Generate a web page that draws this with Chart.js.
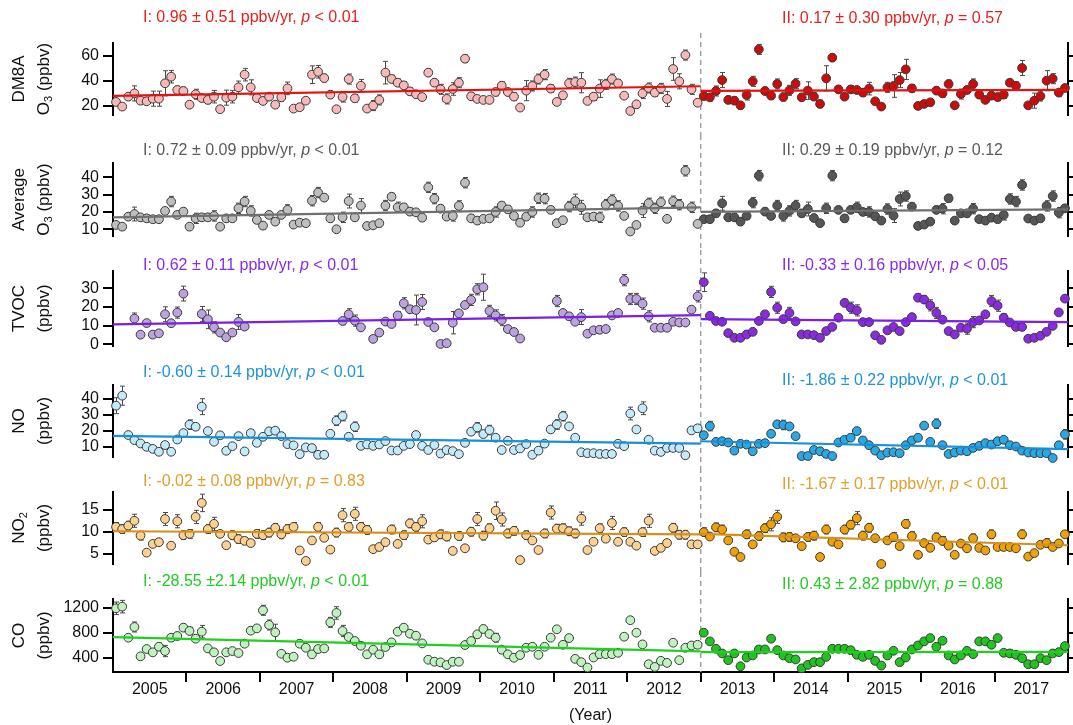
<!DOCTYPE html>
<html>
<head>
<meta charset="utf-8">
<title>Monthly O3, TVOC, NO, NO2 and CO, 2005-2017</title>
<script src="https://cdn.jsdelivr.net/npm/chart.js@4.4.1/dist/chart.umd.min.js"></script>
<style>
  html, body { margin: 0; padding: 0; background: #fff; }
  #wrap { position: relative; width: 1073px; height: 725px; overflow: hidden; }
  #wrap canvas { position: absolute; left: 0; }
</style>
</head>
<body>
<div id="wrap"></div>
<script>
// ---------------------------------------------------------------------------
// Monthly means, Jan 2005 .. Dec 2017 (one row per year, 12 months each)
// ---------------------------------------------------------------------------
const yearLabels = [2005, 2006, 2007, 2008, 2009, 2010, 2011, 2012, 2013, 2014, 2015, 2016, 2017];
const periodSplitYear = 2013;   // period I: 2005-2012, period II: 2013-2017

const dm8a = [
  23.2, 19.5, 27.4, 30, 24.2, 23.7, 25.8, 25.8, 38, 43.3, 32.7, 31.9,
  21, 29.3, 26.3, 24.8, 27.4, 17.4, 26.6, 27.4, 34.8, 44.9, 34.8, 26.3,
  24, 27.4, 21, 26.9, 34, 17.9, 19, 24.2, 44.9, 47.2, 42.2, 29,
  17.4, 27.1, 41.4, 26.1, 36.1, 17.9, 20.3, 24.8, 46.5, 41.5, 38.5, 36.4,
  31.6, 29.3, 27.1, 46.5, 38.5, 33.2, 25.6, 33.5, 38.5, 57.6, 27.7, 25.6,
  24.8, 24.8, 31.1, 36.1, 31.1, 27.4, 18.7, 32.2, 35.9, 41.4, 44.9, 33.8,
  23.2, 28.5, 38, 39, 38.5, 24, 27.4, 33.8, 37.2, 41.4, 38, 28.2,
  16, 21.3, 30, 34.3, 30.6, 34, 25.6, 49.4, 39.6, 60.5, 33.2, 22.6,
  27.9, 26.9, 31.9, 40.6, 24.8, 24.2, 20.5, 28.7, 39.6, 65, 31.9, 28.2,
  37.5, 27.1, 32.4, 37.7, 26.9, 32.2, 27.4, 21.6, 42, 58.4, 33.2, 27.4,
  33.2, 32.7, 30.6, 33.8, 23.7, 19.5, 34.8, 35.9, 40.6, 49.1, 34, 20,
  21.6, 22.9, 32.2, 30, 37.5, 20.5, 29.5, 32.7, 37.5, 29, 24.8, 28.2,
  27.1, 29, 38.5, 36.1, 50.2, 20.5, 24.2, 27.9, 40.1, 41.7, 30.6, 34.3
];
const dm8aErr = [
  0, 0, 3, 6, 0, 2, 6, 6, 10, 5, 3, 3,
  0, 4, 2, 3, 5, 0, 6, 5, 5, 5, 6, 0,
  2, 3, 0, 3, 5, 0, 0, 0, 7, 5, 3, 3,
  0, 4, 4, 3, 5, 0, 4, 4, 9, 3, 3, 3,
  3, 2, 2, 3, 3, 4, 4, 5, 4, 3, 3, 2,
  2, 0, 3, 3, 3, 3, 0, 8, 4, 4, 4, 3,
  0, 3, 4, 4, 8, 2, 3, 7, 4, 4, 3, 0,
  0, 3, 4, 4, 3, 4, 6, 9, 6, 4, 4, 0,
  3, 3, 4, 6, 3, 3, 3, 4, 4, 4, 3, 3,
  4, 3, 4, 4, 0, 7, 3, 3, 10, 3, 3, 2,
  3, 2, 3, 5, 0, 0, 4, 9, 6, 8, 3, 0,
  0, 0, 3, 3, 3, 0, 4, 3, 4, 3, 2, 3,
  3, 3, 2, 3, 6, 0, 6, 4, 8, 4, 3, 0
];

const avgO3 = [
  12.5, 11.5, 17.3, 18.8, 16.9, 16.3, 15.8, 15.8, 20.6, 26, 18.3, 20.2,
  11.5, 16.3, 16.9, 16.9, 17.7, 11.5, 16.3, 16.3, 22.1, 26, 20.6, 15.4,
  12.1, 18.3, 14.4, 18.3, 21.2, 12.7, 13.8, 13.5, 26.5, 31.2, 28.3, 16.3,
  10, 16.9, 26.3, 16.9, 23.7, 11.9, 12.3, 13.5, 23.7, 28.8, 22.7, 22.7,
  20.2, 19.8, 16.7, 34.2, 27.7, 21.9, 17.3, 17.7, 23.5, 36.9, 16.3, 15,
  16, 16.3, 20, 23.7, 21.5, 17.7, 13.8, 17.3, 20, 27.9, 27.7, 21.2,
  13.5, 15.2, 23.1, 26.3, 22.7, 16.9, 17.3, 16.9, 24.2, 26.9, 23.5, 17.7,
  8.7, 12.5, 20.8, 25, 22.1, 25.6, 16, 26.2, 24.2, 43.8, 22.7, 13.1,
  15.8, 15.8, 19.2, 25, 16.9, 16.9, 14.4, 17.7, 25.4, 41, 20.2, 17.7,
  23.7, 17.7, 20.6, 23.7, 19.2, 21.7, 16.5, 13.5, 22.1, 41, 21.2, 16.3,
  21.2, 22.7, 20, 20, 17.5, 15, 21.7, 17.9, 27.5, 29.2, 23.1, 11.9,
  12.7, 14.4, 21.2, 21.9, 27.9, 15, 19.2, 19.2, 21.9, 15.8, 15, 16.7,
  15.8, 18.3, 27.5, 26, 35.6, 16.2, 15, 16.3, 23.5, 29.2, 19.6, 22.1
];
const avgO3Err = [
  0, 0, 2, 4, 0, 2, 2, 2, 2, 3, 2, 2,
  0, 3, 2, 2, 3, 0, 2, 2, 3, 3, 3, 0,
  2, 2, 0, 2, 3, 0, 0, 0, 3, 3, 2, 2,
  0, 3, 4, 2, 4, 0, 0, 0, 3, 2, 3, 2,
  2, 0, 2, 3, 3, 2, 0, 3, 3, 3, 2, 2,
  0, 0, 3, 2, 2, 2, 0, 2, 3, 3, 3, 2,
  0, 0, 3, 4, 4, 0, 2, 3, 3, 3, 3, 0,
  0, 0, 4, 3, 3, 3, 0, 3, 3, 3, 3, 0,
  2, 2, 2, 4, 2, 2, 2, 2, 3, 3, 2, 2,
  3, 3, 3, 3, 2, 4, 2, 0, 3, 3, 2, 2,
  2, 3, 2, 3, 0, 0, 3, 4, 4, 3, 2, 0,
  0, 0, 2, 3, 2, 0, 2, 2, 3, 2, 2, 2,
  2, 3, 3, 3, 3, 0, 2, 2, 3, 3, 3, 0
];

const tvoc = [
  null, null, null, 13.8, 5.2, 11.4, 5.2, 5.9, 16.1, 11.3, 17, 27.2,
  null, null, 16.3, 13.4, 9.1, 6.3, 3.8, 6.3, 12, 9.5, null, null,
  null, null, null, null, null, null, null, null, null, null, null, null,
  null, 12.5, 16.1, 12.7, 9.1, null, 2.9, 6.3, 12.2, 10.9, 15.5, 22,
  18.8, 18.4, 22.7, 12, 9.1, 0.2, 0.6, 11.6, 16.6, 21.1, 23.8, 29.5,
  30.6, 17.9, 15.5, 13, 8.2, 6.6, 3.1, null, null, null, null, null,
  23.2, 16.8, 15, 12.1, 14.6, 5.7, 7.5, 7.8, 8.2, 15.5, 16.8, 34.4,
  24.3, 24.3, 21.8, 15, 8.9, 8.9, 8.9, 12.1, 11.7, 11.7, 18.6, 25.7,
  33.3, 15.3, 12.5, 12.1, 6, 3.5, 3.5, 5.3, 6.7, 12.5, 16.1, 28.1,
  19.6, 13.5, 16.8, 12.3, 5.3, 5.3, 4.9, 3.5, 7.1, 9.3, 14.3, 22.2,
  19.6, 18.2, 11.9, 11.9, 4.8, 2.4, 7.5, 9.3, 7.1, 11.9, 14.6, 25,
  24, 20.9, 16.8, 13.2, 7.1, 5.3, 8.9, 8.4, 11.9, 12.8, 16.1, 23.2,
  20.7, 14.3, 11.7, 9.3, 9.3, 3, 3.5, 4.6, 6.7, 9.9, 17.1, 24.5
];
const tvocErr = [
  0, 0, 0, 3, 0, 0, 0, 0, 4, 0, 3, 4,
  0, 0, 4, 5, 3, 0, 0, 0, 4, 0, 0, 0,
  0, 0, 0, 0, 0, 0, 0, 0, 0, 0, 0, 0,
  0, 2, 3, 3, 0, 0, 0, 0, 0, 0, 2, 3,
  2, 8, 4, 0, 0, 0, 0, 6, 0, 0, 3, 3,
  7, 3, 3, 3, 0, 0, 0, 0, 0, 0, 0, 0,
  3, 0, 0, 0, 4, 0, 0, 0, 0, 0, 0, 3,
  3, 3, 3, 3, 0, 0, 0, 0, 0, 0, 0, 3,
  5, 0, 0, 0, 0, 0, 0, 0, 0, 0, 0, 3,
  3, 0, 3, 0, 0, 0, 0, 0, 0, 0, 0, 2,
  3, 3, 0, 0, 0, 0, 0, 0, 0, 0, 0, 2,
  2, 3, 3, 0, 0, 0, 0, 3, 3, 0, 0, 3,
  3, 2, 0, 0, 0, 0, 0, 0, 0, 0, 0, 0
];

const no = [
  35.8, 42.1, 17.4, 14.2, 12.1, 10, 8.7, 6.9, 11.1, 6.9, 14.6, 18.6,
  23.9, 22.6, 35.2, 19.9, 13.2, 17.2, 7.5, 10.4, 16.7, 7.1, 18.6, 12.5,
  16.3, 19.7, 20.1, 16.7, 11.7, 10.9, 5.4, 9.6, 9.2, 5, 5, 18.2,
  26.4, 29.3, 16.3, 22.6, 10.6, 11.5, 10.6, 11.5, 13.6, 7.7, 7.7, 10.6,
  11.7, 17.4, 10.6, 8, 11.1, 5.8, 8, 7.3, 5.4, 12.5, 19.5, 22.2,
  18, 20.5, 15.7, 8, 13.8, 8, 9, 11.7, 5, 7.6, 12, 20.9,
  24, 29.2, 22.8, 15.7, 6.6, 6, 6, 5.5, 5.5, 5.5, 11.9, 10.4,
  30.9, 20.9, 34.2, 14.4, 7.6, 6.8, 9.3, 9.3, 9.3, 4.7, 20.3, 21.6,
  17.3, 23, 13.1, 13.5, 12.7, 7.6, 11.9, 11.4, 7.2, 11.9, 12.3, 18.2,
  24.1, 23.7, 22.8, 16.7, 4.2, 4.2, 8, 7.2, 5.5, 4.2, 12.7, 14.4,
  15.7, 19.9, 14, 11, 7.6, 4.7, 6.4, 6.6, 6, 11, 14, 15.7,
  23.3, 13.1, 24.5, 11, 5.5, 6.4, 7.6, 7.2, 9.3, 10.6, 12.3, 11.4,
  13.5, 14.4, 11, 10.2, 7.6, 6.4, 6, 6, 6, 3, 11, 17.8
];
const noErr = [
  5, 6, 0, 0, 0, 0, 0, 0, 0, 0, 0, 2,
  3, 2, 5, 2, 0, 2, 0, 0, 2, 0, 2, 0,
  0, 2, 2, 2, 0, 0, 0, 0, 0, 0, 0, 2,
  3, 3, 0, 3, 0, 0, 0, 0, 0, 0, 0, 0,
  0, 2, 0, 0, 0, 0, 0, 0, 0, 0, 2, 3,
  2, 3, 2, 0, 0, 0, 0, 0, 0, 0, 0, 2,
  3, 3, 2, 0, 0, 0, 0, 0, 0, 0, 0, 0,
  4, 0, 4, 0, 0, 0, 0, 0, 0, 0, 0, 2,
  2, 3, 0, 0, 0, 0, 0, 0, 0, 0, 0, 2,
  2, 3, 0, 0, 0, 0, 0, 0, 0, 0, 0, 0,
  0, 2, 0, 0, 0, 0, 0, 0, 0, 0, 0, 0,
  2, 0, 3, 0, 0, 0, 0, 0, 0, 0, 0, 0,
  0, 0, 0, 0, 0, 0, 0, 0, 0, 0, 0, 3
];

const no2 = [
  11.1, 10.6, 11.4, 12.5, 9.1, 5.2, 7.2, 7.6, 12.9, 6.8, 12.4, 9.2,
  9.5, 13.4, 16.6, 10.6, 11.8, 9.5, 6.9, 9.2, 8.3, 7.9, 7.4, 9.5,
  9.2, 9.8, 10.9, 9.4, 10.6, 11.1, 5.7, 3.3, 8, 11.1, 8.6, 5.9,
  9.8, 13.8, 11.1, 14.1, 11.1, 10.4, 6, 6.5, 7.6, 10.5, 7.2, 9.2,
  11.9, 11.1, 12.4, 8.2, 8.7, 9.4, 8.9, 5.6, 9, 6.2, 10, 12.9,
  9.1, 10.8, 14.8, 12.8, 9.6, 10.2, 3.5, 9.2, 8, 5.8, 9.6, 14.4,
  10.7, 10.8, 10.1, 9.6, 13, 5.8, 7.7, 10.8, 8.4, 12, 7.7, 9.9,
  7.7, 6.8, 9.9, 12.5, 5.6, 6.3, 7.4, 10.9, 9.3, 9.3, 7.1, 7.1,
  9.9, 8.9, 11, 10.5, 8, 5.4, 4.2, 9.4, 7.1, 9, 10.8, 11.7,
  13.4, 8.7, 8.8, 8.5, 6.7, 8.8, 9.1, 4.2, 10.5, 7.7, 7.1, 10.5,
  11.6, 13.1, 9.1, 10.9, 8.5, 2.6, 8, 8.8, 6.7, 11.8, 9, 4.7,
  7.4, 6.3, 8.7, 7.9, 6.8, 4.7, 7.3, 6.2, 8.5, 6.3, 5.7, 9.4,
  6.5, 6.5, 6.5, 6.2, 9.4, 4.3, 5.1, 7, 7.4, 6.5, 7.3, 9.4
];
const no2Err = [
  1, 1, 1, 1.5, 1, 0, 0, 0, 1.5, 0, 1.5, 1,
  1, 1.5, 2, 1, 1.5, 0, 0, 1, 1, 0.8, 0, 1,
  1, 1, 1, 1, 1, 1, 0, 0, 0.8, 1, 0, 0,
  1, 1.5, 1, 1.5, 1, 1, 0, 0, 0, 1, 0, 1,
  1, 1, 1.5, 0.8, 0.8, 1, 1, 0, 1, 0, 1, 1.5,
  1, 1, 2, 1.5, 1, 1, 0, 1, 0, 0, 1, 1.5,
  1, 1, 1, 1, 1.5, 0, 0, 1, 0, 1.5, 0, 1,
  0, 0, 1, 1.5, 0, 0, 0, 1, 1, 1, 0, 0,
  1, 0, 1, 1, 0, 0, 0, 1, 0, 1, 1, 1.5,
  1.5, 1, 1, 0, 0, 1, 1, 0, 1, 0, 0, 1,
  1, 1.5, 1, 1, 0, 0, 0, 1, 0, 1, 1, 0,
  0, 0, 1, 1, 0, 0, 0, 0, 1, 0, 0, 1,
  0, 0, 0, 0, 1, 0, 0, 0, 1, 0, 0, 0
];

const co = [
  1189, 1216, 720, 891, 422, 539, 486, 576, 507, 720, 747, 880,
  827, 704, 816, 549, 486, 347, 486, 507, 475, 624, 832, 869,
  1157, 923, 805, 464, 400, 416, 624, 560, 454, 539, 549, 965,
  1115, 827, 731, 667, 592, 454, 528, 454, 571, 645, 816, 880,
  784, 752, 629, 368, 336, 326, 283, 336, 336, 603, 667, 773,
  859, 780, 720, 528, 454, 400, 443, 560, 575, 447, 575, 720,
  854, 607, 714, 382, 329, 243, 404, 457, 457, 457, 479, 736,
  999, 800, 613, 296, 253, 350, 318, 640, 361, 559, 596, 607,
  800, 661, 543, 468, 361, 468, 264, 404, 436, 532, 532, 704,
  521, 436, 393, 372, 230, 286, 329, 329, 414, 543, 543, 543,
  521, 447, 414, 447, 350, 275, 436, 511, 329, 404, 532, 596,
  661, 714, 575, 672, 436, 372, 436, 511, 457, 661, 661, 607,
  714, 479, 468, 447, 393, 296, 296, 393, 361, 468, 489, 586
];
const coErr = [
  100, 100, 0, 80, 0, 0, 0, 60, 90, 60, 60, 60,
  60, 0, 100, 0, 0, 0, 0, 0, 0, 0, 0, 0,
  80, 80, 130, 0, 0, 0, 0, 0, 0, 0, 0, 80,
  100, 90, 0, 0, 0, 0, 0, 0, 0, 0, 0, 0,
  0, 0, 0, 0, 0, 0, 0, 0, 0, 0, 0, 40,
  60, 0, 70, 0, 0, 0, 0, 0, 0, 0, 0, 0,
  0, 0, 0, 0, 0, 0, 0, 0, 0, 0, 0, 0,
  0, 0, 0, 0, 0, 0, 0, 0, 0, 0, 0, 0,
  0, 0, 0, 0, 0, 0, 0, 0, 0, 0, 0, 0,
  0, 0, 0, 0, 0, 0, 0, 0, 0, 0, 0, 0,
  0, 0, 0, 0, 0, 0, 0, 0, 0, 0, 0, 0,
  0, 0, 0, 0, 0, 0, 0, 0, 0, 0, 0, 0,
  0, 0, 60, 0, 0, 0, 0, 0, 0, 0, 0, 0
];

// Linear fits: value at start and end of each period
const dm8aTrendI = [28.0, 35.7],   dm8aTrendII = [32.0, 32.85];
const avgO3TrendI = [16.9, 22.7],  avgO3TrendII = [20.0, 21.45];
const tvocTrendI = [10.7, 15.7],   tvocTrendII = [13.5, 11.85];
const noTrendI = [16.8, 12.0],     noTrendII = [13.5, 8.5];
const no2TrendI = [10.1, 9.4],     no2TrendII = [9.5, 6.9];
const coTrendI = [730, 500],       coTrendII = [490, 492];

// Axis ranges and tick values
const dm8aTicks = [20, 40, 60],          dm8aRange = [12.8, 70.1];
const avgO3Ticks = [10, 20, 30, 40],     avgO3Range = [6.1, 48.3];
const tvocTicks = [0, 10, 20, 30],       tvocRange = [-0.9, 39.3];
const noTicks = [10, 20, 30, 40],        noRange = [3.6, 48.8];
const no2Ticks = [5, 10, 15],            no2Range = [2.6, 19.1];
const coTicks = [400, 800, 1200],        coRange = [172, 1338];

// ---------------------------------------------------------------------------
// Drawing
// ---------------------------------------------------------------------------
const FONT = '"Liberation Sans", Arial, Helvetica, sans-serif';
Chart.defaults.font.family = FONT;
Chart.defaults.font.size = 16;
Chart.defaults.color = '#111';

const START_YEAR = yearLabels[0];
const END_YEAR = yearLabels[yearLabels.length - 1] + 1;
const monthTime = i => START_YEAR + (i + 0.5) / 12;
const PLOT_LEFT = 113, PLOT_RIGHT = 1068, PAGE_W = 1073, PAGE_H = 725;

const panels = [
  { values: dm8a, errors: dm8aErr, ticks: dm8aTicks, range: dm8aRange, trendI: dm8aTrendI, trendII: dm8aTrendII,
    title: [[{t: 'DM8A'}], [{t: 'O'}, {t: '3', sub: true}, {t: ' (ppbv)'}]],
    labelI: [{t: 'I: 0.96 \u00b1 0.51 ppbv/yr, '}, {t: 'p', it: true}, {t: ' < 0.01'}],
    labelII: [{t: 'II: 0.17 \u00b1 0.30 ppbv/yr, '}, {t: 'p', it: true}, {t: ' = 0.57'}],
    light: '#f7b8b8', dark: '#cf0a0a', line: '#e01212', text: '#e3221c',
    canvasTop: 0, canvasBottom: 135, plotTop: 43, plotBottom: 115, textY: [18, 19], dashTop: 33 },
  { values: avgO3, errors: avgO3Err, ticks: avgO3Ticks, range: avgO3Range, trendI: avgO3TrendI, trendII: avgO3TrendII,
    title: [[{t: 'Average'}], [{t: 'O'}, {t: '3', sub: true}, {t: ' (ppbv)'}]],
    labelI: [{t: 'I: 0.72 \u00b1 0.09 ppbv/yr, '}, {t: 'p', it: true}, {t: ' < 0.01'}],
    labelII: [{t: 'II: 0.29 \u00b1 0.19 ppbv/yr, '}, {t: 'p', it: true}, {t: ' = 0.12'}],
    light: '#bebebe', dark: '#565656', line: '#707070', text: '#5a5a5a',
    canvasTop: 135, canvasBottom: 250, plotTop: 163, plotBottom: 236, textY: [151, 151] },
  { values: tvoc, errors: tvocErr, ticks: tvocTicks, range: tvocRange, trendI: tvocTrendI, trendII: tvocTrendII,
    title: [[{t: 'TVOC'}], [{t: '(ppbv)'}]],
    labelI: [{t: 'I: 0.62 \u00b1 0.11 ppbv/yr, '}, {t: 'p', it: true}, {t: ' < 0.01'}],
    labelII: [{t: 'II: -0.33 \u00b1 0.16 ppbv/yr, '}, {t: 'p', it: true}, {t: ' < 0.05'}],
    light: '#bca2de', dark: '#8a2be0', line: '#7b1ee6', text: '#8a2be2',
    canvasTop: 250, canvasBottom: 358, plotTop: 271, plotBottom: 346, textY: [266, 266] },
  { values: no, errors: noErr, ticks: noTicks, range: noRange, trendI: noTrendI, trendII: noTrendII,
    title: [[{t: 'NO'}], [{t: '(ppbv)'}]],
    labelI: [{t: 'I: -0.60 \u00b1 0.14 ppbv/yr, '}, {t: 'p', it: true}, {t: ' < 0.01'}],
    labelII: [{t: 'II: -1.86 \u00b1 0.22 ppbv/yr, '}, {t: 'p', it: true}, {t: ' < 0.01'}],
    light: '#c2eaf8', dark: '#28a8e6', line: '#1890d8', text: '#1f93d9',
    canvasTop: 358, canvasBottom: 468, plotTop: 385, plotBottom: 457, textY: [373, 381] },
  { values: no2, errors: no2Err, ticks: no2Ticks, range: no2Range, trendI: no2TrendI, trendII: no2TrendII,
    title: [[{t: 'NO'}, {t: '2', sub: true}], [{t: '(ppbv)'}]],
    labelI: [{t: 'I: -0.02 \u00b1 0.08 ppbv/yr, '}, {t: 'p', it: true}, {t: ' = 0.83'}],
    labelII: [{t: 'II: -1.67 \u00b1 0.17 ppbv/yr, '}, {t: 'p', it: true}, {t: ' < 0.01'}],
    light: '#fcd18f', dark: '#f0a106', line: '#d6901a', text: '#e39e2a',
    canvasTop: 468, canvasBottom: 572, plotTop: 492, plotBottom: 564, textY: [482, 485] },
  { values: co, errors: coErr, ticks: coTicks, range: coRange, trendI: coTrendI, trendII: coTrendII,
    title: [[{t: 'CO'}], [{t: '(ppbv)'}]],
    labelI: [{t: 'I: -28.55 \u00b12.14 ppbv/yr, '}, {t: 'p', it: true}, {t: ' < 0.01'}],
    labelII: [{t: 'II: 0.43 \u00b1 2.82 ppbv/yr, '}, {t: 'p', it: true}, {t: ' = 0.88'}],
    light: '#bff2bf', dark: '#1fc41f', line: '#1fd01f', text: '#22cc22',
    canvasTop: 572, canvasBottom: PAGE_H, plotTop: 599, plotBottom: 672, textY: [582, 585], last: true }
];

// Text made of plain / italic / subscript runs
function drawRuns(ctx, runs, x, y, size, color, align) {
  const parts = runs.map(r => {
    const fs = r.sub ? Math.round(size * 0.66) : size;
    const font = (r.it ? 'italic ' : '') + fs + 'px ' + FONT;
    ctx.font = font;
    return { r, font, w: ctx.measureText(r.t).width };
  });
  const total = parts.reduce((s, p) => s + p.w, 0);
  let cx = align === 'center' ? x - total / 2 : x;
  ctx.fillStyle = color;
  ctx.textAlign = 'left';
  ctx.textBaseline = 'middle';
  parts.forEach(p => {
    ctx.font = p.font;
    ctx.fillText(p.r.t, cx, y + (p.r.sub ? size * 0.32 : 0));
    cx += p.w;
  });
}

const panelDecor = {
  id: 'panelDecor',
  beforeDatasetsDraw(chart, args, opts) {
    const p = opts.panel;
    const { ctx, scales: { x, y } } = chart;
    const h = chart.height;
    // period divider
    const xd = x.getPixelForValue(periodSplitYear);
    ctx.save();
    ctx.strokeStyle = '#a0a0a0';
    ctx.lineWidth = 1.5;
    ctx.setLineDash([5, 4]);
    ctx.beginPath();
    ctx.moveTo(xd, p.dashTop !== undefined ? p.dashTop - p.canvasTop : 0);
    ctx.lineTo(xd, p.last ? p.plotBottom - p.canvasTop : h);
    ctx.stroke();
    ctx.restore();
    // error bars
    ctx.save();
    ctx.strokeStyle = '#4a4a4a';
    ctx.lineWidth = 1;
    p.values.forEach((v, i) => {
      const e = p.errors[i];
      if (v === null || !e) return;
      const px = Math.round(x.getPixelForValue(monthTime(i))) + 0.5;
      const y1 = y.getPixelForValue(v + e);
      const y2 = y.getPixelForValue(v - e);
      ctx.beginPath();
      ctx.moveTo(px, y1); ctx.lineTo(px, y2);
      ctx.moveTo(px - 2.5, y1); ctx.lineTo(px + 2.5, y1);
      ctx.moveTo(px - 2.5, y2); ctx.lineTo(px + 2.5, y2);
      ctx.stroke();
    });
    ctx.restore();
  },
  afterDraw(chart, args, opts) {
    const p = opts.panel;
    const ctx = chart.ctx;
    ctx.save();
    drawRuns(ctx, p.labelI, 143, p.textY[0] - p.canvasTop, 16, p.text, 'left');
    drawRuns(ctx, p.labelII, 782, p.textY[1] - p.canvasTop, 16, p.text, 'left');
    // axis title, two rotated lines
    const yc = (p.plotTop + p.plotBottom) / 2 - p.canvasTop;
    [[19, p.title[0]], [44, p.title[1]]].forEach(([tx, runs]) => {
      ctx.save();
      ctx.translate(tx, yc);
      ctx.rotate(-Math.PI / 2);
      drawRuns(ctx, runs, 0, 0, 17, '#111', 'center');
      ctx.restore();
    });
    ctx.restore();
  }
};

function yAxis(p, side) {
  return {
    type: 'linear',
    position: side,
    min: p.range[0],
    max: p.range[1],
    afterBuildTicks: s => { s.ticks = p.ticks.map(v => ({ value: v })); },
    afterFit: s => {
      s.width = side === 'left' ? PLOT_LEFT : 0;
      s.paddingTop = 0; s.paddingBottom = 0; s.paddingLeft = 0; s.paddingRight = 0;
    },
    border: { display: true, color: '#000', width: 2 },
    grid: { display: true, drawOnChartArea: false, drawTicks: true,
            tickLength: side === 'left' ? 10 : 7, color: '#000', lineWidth: 2 },
    ticks: { display: side === 'left', padding: 4, color: '#111', font: { size: 16 },
             callback: v => String(v) }
  };
}

function xAxis(p) {
  if (!p.last) {
    return { type: 'linear', min: START_YEAR, max: END_YEAR, display: false };
  }
  const tickVals = [];
  for (let v = START_YEAR; v <= END_YEAR + 1e-9; v += 0.5) tickVals.push(v);
  const isBoundary = v => Number.isInteger(v) && v > START_YEAR && v < END_YEAR;
  return {
    type: 'linear', min: START_YEAR, max: END_YEAR, position: 'bottom',
    afterBuildTicks: s => { s.ticks = tickVals.map(v => ({ value: v })); },
    afterFit: s => {
      s.height = PAGE_H - p.plotBottom;
      s.paddingLeft = 0; s.paddingRight = 0;
    },
    border: { display: true, color: '#000', width: 2 },
    grid: {
      display: true, drawOnChartArea: false, drawTicks: true, tickLength: 10,
      color: c => (c.tick && isBoundary(c.tick.value)) ? '#000' : 'rgba(0,0,0,0)',
      lineWidth: 2
    },
    ticks: {
      autoSkip: false, maxRotation: 0, minRotation: 0, padding: -2, color: '#111', font: { size: 16 },
      callback: v => {
        const yr = Math.floor(v);
        return (Math.abs(v - yr - 0.5) < 1e-6 && yearLabels.includes(yr)) ? String(yr) : '';
      }
    },
    title: { display: true, text: '(Year)', color: '#111', font: { size: 16 }, padding: { top: 0, bottom: 0 } }
  };
}

const wrap = document.getElementById('wrap');
panels.forEach(p => {
  const canvas = document.createElement('canvas');
  const h = p.canvasBottom - p.canvasTop;
  canvas.width = PAGE_W;
  canvas.height = h;
  canvas.style.width = PAGE_W + 'px';
  canvas.style.height = h + 'px';
  canvas.style.top = p.canvasTop + 'px';
  wrap.appendChild(canvas);

  const pts = (from, to) => {
    const out = [];
    for (let i = from; i < to; i++) {
      if (p.values[i] !== null) out.push({ x: monthTime(i), y: p.values[i] });
    }
    return out;
  };
  const split = (periodSplitYear - START_YEAR) * 12;
  const pointStyle = fill => ({
    type: 'scatter', backgroundColor: fill, borderColor: '#3a3a3a', borderWidth: 1,
    pointRadius: 4.4, pointHoverRadius: 4.4, clip: false, order: 2
  });
  const trendStyle = {
    type: 'line', borderColor: p.line, borderWidth: 2.2, pointRadius: 0, fill: false, order: 1, clip: false
  };

  new Chart(canvas, {
    type: 'scatter',
    data: {
      datasets: [
        Object.assign({ data: pts(0, split) }, pointStyle(p.light)),
        Object.assign({ data: pts(split, p.values.length) }, pointStyle(p.dark)),
        Object.assign({ data: [{ x: START_YEAR, y: p.trendI[0] }, { x: periodSplitYear, y: p.trendI[1] }] }, trendStyle),
        Object.assign({ data: [{ x: periodSplitYear, y: p.trendII[0] }, { x: END_YEAR, y: p.trendII[1] }] }, trendStyle)
      ]
    },
    options: {
      responsive: false,
      animation: false,
      devicePixelRatio: 1,
      events: [],
      layout: {
        autoPadding: false,
        padding: {
          left: 0,
          right: PAGE_W - PLOT_RIGHT,
          top: p.plotTop - p.canvasTop,
          bottom: p.last ? 0 : p.canvasBottom - p.plotBottom
        }
      },
      plugins: { legend: { display: false }, tooltip: { enabled: false }, panelDecor: { panel: p } },
      scales: { x: xAxis(p), y: yAxis(p, 'left'), y2: yAxis(p, 'right') }
    },
    plugins: [panelDecor]
  });
});
</script>
</body>
</html>
